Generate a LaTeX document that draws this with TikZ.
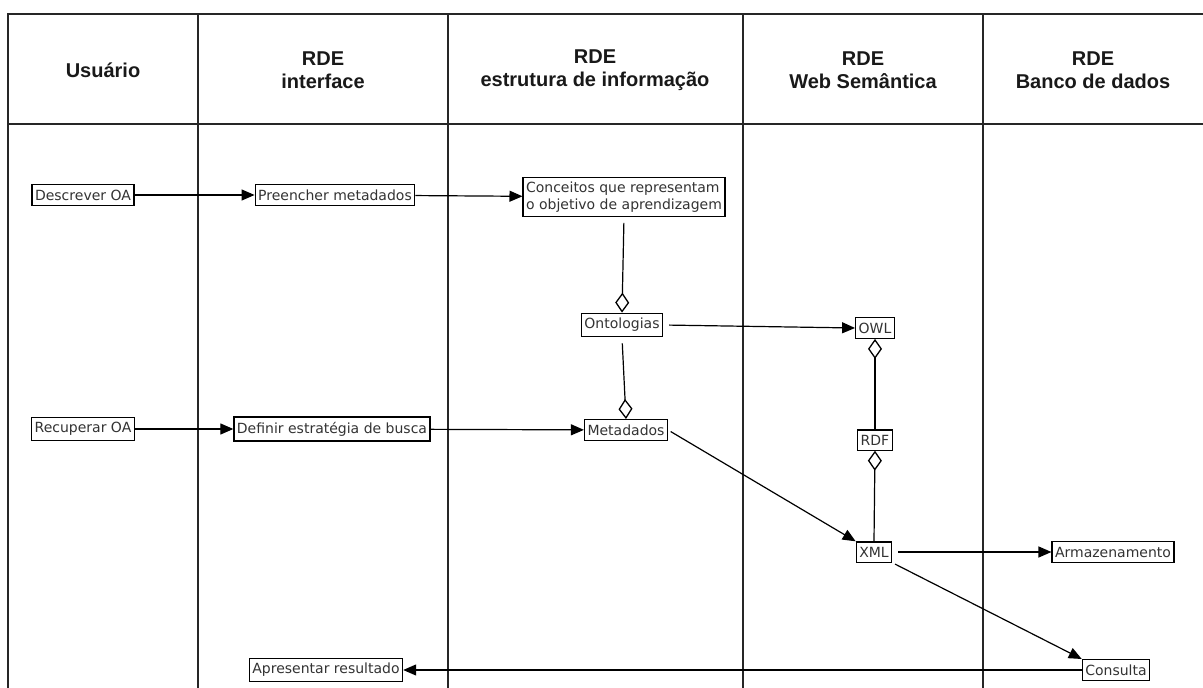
\documentclass[tikz,border=0pt]{standalone}
\usepackage{fontspec}
\setmainfont{Liberation Sans}
\newfontfamily\nodefont{DejaVu Sans}
\usetikzlibrary{arrows.meta}
\begin{document}
\begin{tikzpicture}[x=1pt,y=-1pt,
  lane/.style={line width=1.4pt, draw=black!85},
  box/.style={draw, line width=1.2pt, font=\nodefont\fontsize{14}{17}\selectfont, inner xsep=3pt, inner ysep=5pt, text=black!80},
  hdr/.style={font=\bfseries\fontsize{20}{23}\selectfont, align=center, text=black!90},
  arr/.style={line width=1.2pt, -{Triangle[length=13pt,width=11pt]}},
  agg/.style={line width=1.2pt, -{Diamond[open,length=20pt,width=14pt,line width=1.3pt]}}
]
\useasboundingbox (0,0) rectangle (1203,688);
\fill[white] (0,0) rectangle (1203,688);
% frame and lanes
\draw[lane] (1203,14) -- (8,14) -- (8,688);
\draw[lane] (8,124) -- (1203,124);
\foreach \x in {198,448,743,983} \draw[lane] (\x,14) -- (\x,688);
% headers
\node[hdr] (h1) at (103,70) {Usuário};
\node[hdr] (h2) at (323,70) {RDE\\interface};
\node[hdr] (h3) at (595,70) {RDE\\estrutura de informação};
\node[hdr] (h4) at (863,70) {RDE\\Web Semântica};
\node[hdr] (h5) at (1093,70) {RDE\\Banco de dados};
% nodes
\node[box] (desc) at (83,195) {Descrever OA};
\node[box] (pre) at (335,195) {Preencher metadados};
\node[box, align=left, inner ysep=4pt] (conc) at (624,197) {Conceitos que representam\\o objetivo de aprendizagem};
\node[box] (onto) at (622,325) {Ontologias};
\node[box] (owl) at (875,328) {OWL};
\node[box] (rdf) at (875,440) {RDF};
\node[box] (rec) at (83,429) {Recuperar OA};
\node[box] (def) at (332,429) {Definir estratégia de busca};
\node[box] (meta) at (626,430) {Metadados};
\node[box] (xml) at (874,552) {XML};
\node[box] (arm) at (1113,552) {Armazenamento};
\node[box] (cons) at (1116,670) {Consulta};
\node[box] (apr) at (326,670) {Apresentar resultado};
% connectors
\draw[arr] (desc) -- (pre);
\draw[arr] (pre) -- (conc);
\draw[agg, shorten <=6pt] (conc.south) -- (onto.north);
\draw[agg, shorten <=6pt] (onto.south) -- (meta.north);
\draw[arr, shorten <=6pt] (onto.east) -- (owl.west);
\draw[agg] (rdf.north) -- (owl.south);
\draw[agg] (xml.north) -- (rdf.south);
\draw[arr] (rec) -- (def);
\draw[arr] (def) -- (meta);
\draw[arr, shorten <=3pt] (meta.east) -- (xml.north west);
\draw[arr, shorten <=6pt] (xml) -- (arm);
\draw[arr, shorten <=3pt] (xml.south east) -- (cons.north west);
\draw[arr] (cons) -- (apr);
\end{tikzpicture}
\end{document}
